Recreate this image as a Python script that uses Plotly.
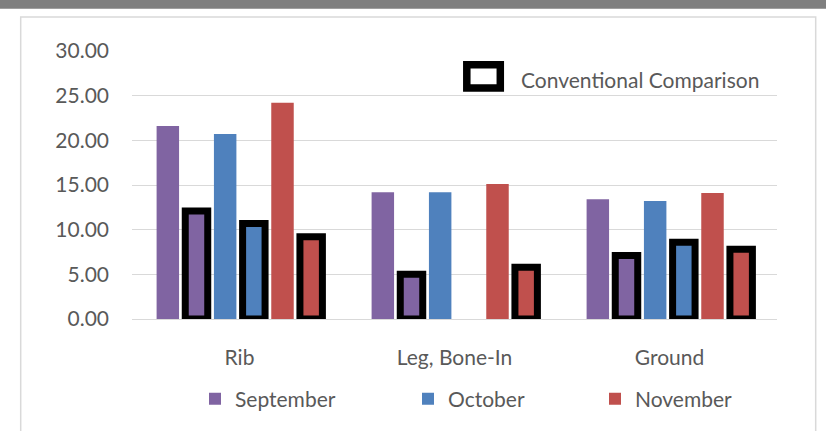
import plotly.graph_objects as go

categories = ["Rib", "Leg, Bone-In", "Ground"]
months = ["September", "October", "November"]
organic = {
    "September": [21.6, 14.2, 13.4],
    "October": [20.7, 14.2, 13.2],
    "November": [24.2, 15.1, 14.1],
}
conventional = {
    "September": [12.1, 5.0, 7.1],
    "October": [10.7, None, 8.6],
    "November": [9.2, 5.8, 7.8],
}
y_ticks = [0, 5, 10, 15, 20, 25, 30]
colors = {"September": "#8064A2", "October": "#4F81BD", "November": "#C0504D"}

W, H = 826, 431
L, R, T, B = 132, 49, 51, 109
PW, PH = W - L - R, H - T - B

def px(x):
    return (x - L) / PW

def py(y):
    return (H - B - y) / PH

FONT = "Lato"
TXT = "#595959"

fig = go.Figure()
legend_ids = {"September": "legend", "October": "legend2", "November": "legend3"}
for m in months:
    fig.add_trace(go.Bar(
        x=categories, y=organic[m], name=m,
        marker=dict(color=colors[m], line=dict(width=0)),
        legend=legend_ids[m], showlegend=True,
    ))
    fig.add_trace(go.Bar(
        x=categories, y=conventional[m], name=m + " (Conventional)",
        marker=dict(color=colors[m], line=dict(color="black", width=7)),
        showlegend=False, cliponaxis=False,
    ))

legend_text_x = {"September": 235, "October": 448, "November": 635}
common_leg = dict(orientation="h", xanchor="left", yanchor="middle", y=py(403),
                  font=dict(family=FONT, size=21, color=TXT), bgcolor="rgba(0,0,0,0)",
                  borderwidth=0, itemclick=False)
fig.update_layout(
    legend=dict(x=px(legend_text_x["September"] - 40), **common_leg),
    legend2=dict(x=px(legend_text_x["October"] - 40), **common_leg),
    legend3=dict(x=px(legend_text_x["November"] - 40), **common_leg),
)

shapes = [
    # outer chart border
    dict(type="rect", xref="paper", yref="paper", x0=px(20.7), x1=px(815.7),
         y0=py(16.7), y1=py(445), line=dict(color="#d9d9d9", width=1.5), fillcolor="rgba(0,0,0,0)", layer="below"),
    # top gray band
    dict(type="rect", xref="paper", yref="paper", x0=px(-5), x1=px(W + 5),
         y0=py(8.3), y1=py(-5), line=dict(width=0), fillcolor="#7f7f7f", layer="below"),
    # conventional comparison legend key
    dict(type="rect", xref="paper", yref="paper", x0=px(466.8), x1=px(500.3),
         y0=py(64.8), y1=py(88.3), line=dict(color="black", width=7.5), fillcolor="white"),
]

fig.update_layout(
    width=W, height=H,
    margin=dict(l=L, r=R, t=T, b=B, pad=0),
    paper_bgcolor="white", plot_bgcolor="white",
    barmode="group", bargap=0.2, bargroupgap=0.216,
    font=dict(family=FONT, size=21, color=TXT),
    shapes=shapes,
    annotations=[dict(text="Conventional Comparison", xref="paper", yref="paper",
                      x=px(519), y=py(80.3), xanchor="left", yanchor="middle",
                      showarrow=False, font=dict(family=FONT, size=21, color=TXT))],
    xaxis=dict(showgrid=False, showline=False, zeroline=False, ticks="",
               ticklabelstandoff=24, tickfont=dict(family=FONT, size=21, color=TXT)),
    yaxis=dict(range=[0, 30], tickvals=y_ticks, ticktext=[f"{v:.2f}" for v in y_ticks],
               showgrid=True, gridcolor="#d9d9d9", gridwidth=1.3,
               zeroline=True, zerolinecolor="#d9d9d9", zerolinewidth=1.3,
               showline=False, ticks="", ticklabelstandoff=22,
               tickfont=dict(family=FONT, size=21, color=TXT)),
)

fig.write_html("out.html", config={"displayModeBar": False},
               post_script="document.body.style.margin='0';document.body.style.overflow='hidden';")
